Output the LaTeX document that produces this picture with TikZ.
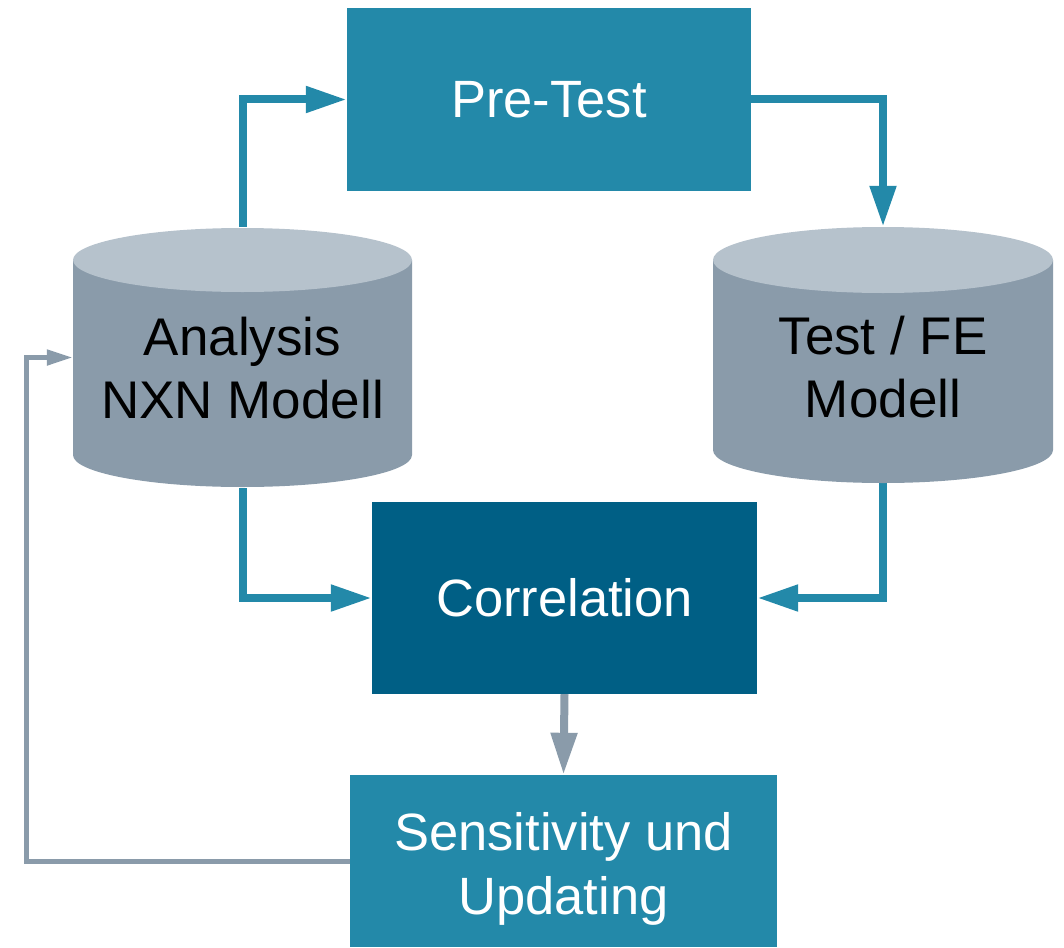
\documentclass[tikz,border=0pt]{standalone}
\usepackage{fontspec}
\setmainfont{Liberation Sans}
\usetikzlibrary{arrows.meta}
\definecolor{teal}{RGB}{35,137,169}
\definecolor{darkteal}{RGB}{0,95,133}
\definecolor{cylbody}{RGB}{138,155,170}
\definecolor{cyltop}{RGB}{182,194,204}
\definecolor{grayarrow}{RGB}{138,155,170}
\tikzset{
  boxnode/.style={rectangle, inner sep=0pt, text=white, font=\fontsize{52.5}{64}\selectfont, align=center},
  cyltext/.style={inner sep=0pt, text=black, font=\fontsize{53}{63}\selectfont, align=center},
  bluearrow/.style={draw=teal, line width=8pt, -{Triangle[length=41pt,width=25pt]}},
  grayarrowdown/.style={draw=grayarrow, line width=8pt, -{Triangle[length=42pt,width=25pt]}},
  feedback/.style={draw=grayarrow, line width=5pt, -{Triangle[length=26pt,width=15pt]}},
  holder/.style={rectangle, inner sep=0pt, draw=none}
}
\newcommand{\cyl}[5]{% cx, rx, topy, boty, ry
  \fill[cylbody] (#1-#2,#3) -- (#1-#2,#4) arc[start angle=180, end angle=360, x radius=#2, y radius=-#5] -- (#1+#2,#3) -- cycle;
  \fill[cyltop] (#1,#3) ellipse[x radius=#2, y radius=#5];
}
\begin{document}
\begin{tikzpicture}[x=1pt,y=-1pt]
\useasboundingbox (0,0) rectangle (1064,947);
% nodes
\node[boxnode, fill=teal, minimum width=404pt, minimum height=183pt] (pre) at (549,99.5) {Pre-Test};
\node[boxnode, fill=darkteal, minimum width=385pt, minimum height=192pt] (corr) at (564.5,598) {Correlation};
\node[boxnode, fill=teal, minimum width=427pt, minimum height=172pt] (sens) at (563.5,861) {};
\node[boxnode] (senstext) at (563.5,869) {Sensitivity und\\Updating};
\node[holder, minimum width=339pt, minimum height=261pt] (lc) at (242.5,357.5) {};
\node[holder, minimum width=340pt, minimum height=256pt] (rc) at (883,355) {};
\coordinate (fb) at (26,861);
% connectors
\draw[bluearrow] (lc.north) |- (pre.west);
\draw[bluearrow] (pre.east) -| (rc.north);
\draw[bluearrow] (lc.south) |- (corr.west);
\draw[bluearrow] (rc.south) |- (corr.east);
\draw[grayarrowdown] (corr.south) -- (sens.north);
\draw[feedback] (sens.west) -- (fb) |- (lc.west);
% cylinders
\cyl{242.5}{169.5}{260}{455}{32}
\cyl{883}{170}{260}{450}{33}
\node[cyltext] (lctext) at (242.5,368) {Analysis\\NXN Modell};
\node[cyltext] (rctext) at (883,367) {Test / FE\\Modell};
\end{tikzpicture}
\end{document}
